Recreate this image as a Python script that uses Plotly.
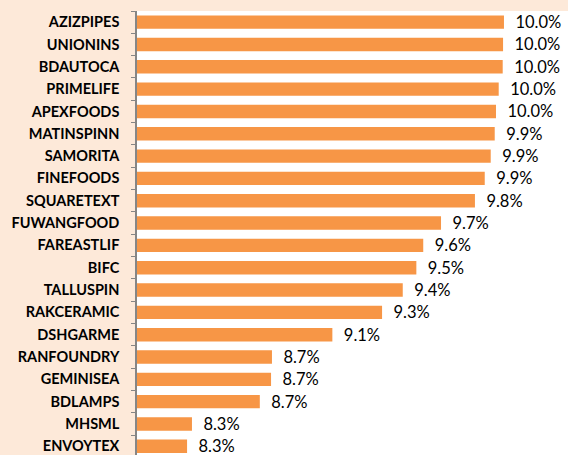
import plotly.graph_objects as go

categories = ["AZIZPIPES", "UNIONINS", "BDAUTOCA", "PRIMELIFE", "APEXFOODS",
              "MATINSPINN", "SAMORITA", "FINEFOODS", "SQUARETEXT", "FUWANGFOOD",
              "FAREASTLIF", "BIFC", "TALLUSPIN", "RAKCERAMIC", "DSHGARME",
              "RANFOUNDRY", "GEMINISEA", "BDLAMPS", "MHSML", "ENVOYTEX"]
values = [9.998, 9.993, 9.991, 9.969, 9.954,
          9.947, 9.925, 9.892, 9.838, 9.651,
          9.553, 9.515, 9.440, 9.326, 9.052,
          8.719, 8.714, 8.652, 8.278, 8.251]

fig = go.Figure(go.Bar(
    x=values, y=categories, orientation="h",
    marker=dict(color="#F79646", line=dict(width=0)),
    texttemplate="\u00a0\u00a0%{x:.1f}%", textposition="outside",
    textfont=dict(family="Lato", size=16.5, color="#000000"),
    constraintext="none",
    cliponaxis=False, width=0.6,
))

fig.update_layout(
    width=568, height=455,
    margin=dict(l=137, r=0, t=11, b=0, autoexpand=False),
    paper_bgcolor="#FDE9D9", plot_bgcolor="#FFFFFF",
    showlegend=False,
    xaxis=dict(range=[7.975, 10.351], showgrid=False, zeroline=False,
               showticklabels=False, ticks="", showline=False, automargin=False),
    yaxis=dict(type="category", range=[19.39, -0.5], showgrid=False,
               showline=True, linecolor="#868686", linewidth=1.5,
               ticks="outside", tickson="boundaries", ticklen=4,
               tickcolor="#868686", tickwidth=1, automargin=False,
               tickfont=dict(family="Lato", size=14.5, color="#000000", weight="bold"),
               ticklabelstandoff=13),
)

fig.write_html("out.html",
               config={"displayModeBar": False},
               post_script="document.body.style.margin='0';document.body.style.overflow='hidden';")
